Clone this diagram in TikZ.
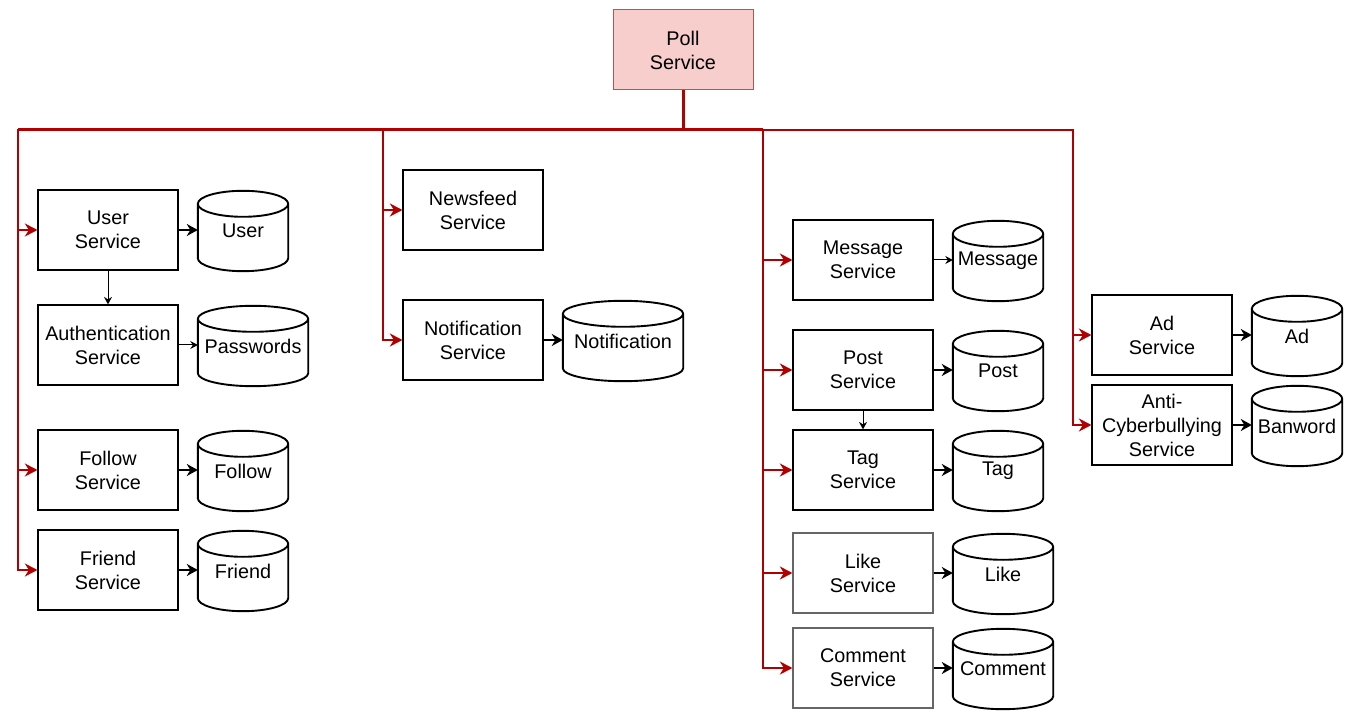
\documentclass[tikz,border=0pt]{standalone}
\usepackage{fontspec}
\setmainfont{Liberation Sans}
\usepackage{tikz}
\usetikzlibrary{arrows.meta, positioning, calc}

\definecolor{feedred}{HTML}{B20000}
\definecolor{pollfill}{HTML}{F8CECC}
\definecolor{pollline}{HTML}{B85450}
\newcommand{\svcfont}{\fontsize{19.8}{24}\selectfont}

\tikzset{
  svc/.style={draw, line width=1.2pt, minimum width=140pt, minimum height=80pt,
    align=center, inner sep=1pt, font=\svcfont},
  db/.style={minimum height=80pt, inner sep=1pt, align=center, font=\svcfont},
  dbline/.style={line width=1.9pt, line join=round},
  feed/.style={draw=feedred, line width=2pt, -{Stealth[length=12.5pt, width=13pt, inset=4pt]}},
  trunk/.style={draw=feedred, line width=3pt},
  store/.style={line width=1.8pt, -{Stealth[length=11pt, width=12pt, inset=3.5pt]}},
  thinstore/.style={line width=1pt, -{Stealth[length=7.5pt, width=8pt, inset=2.5pt]}}
}

% cylinder round a db node
\newcommand{\dbshape}[1]{%
  \draw[dbline] let \p1=($(#1.north east)-(#1.north west)$) in
    ($(#1.north west)+(0,13)$) -- ($(#1.south west)+(0,-13)$)
    arc[start angle=180, end angle=360, x radius=0.5*\x1, y radius=13pt]
    -- ($(#1.north east)+(0,13)$)
    ($(#1.north)+(0,13)$) ellipse[x radius=0.5*\x1, y radius=13pt];
}

\begin{document}
\begin{tikzpicture}[x=1pt, y=-1pt]
                \useasboundingbox (0,0) rectangle (1353,719);

                % Poll service
                \node[svc, draw=pollline, fill=pollfill, line width=1pt] (poll) at (683,50) {Poll\\Service};
                \coordinate (hub) at (683,130);
                \coordinate (spineA) at (18,130);
                \coordinate (spineB) at (383,130);
                \coordinate (spineC) at (763,130);
                \coordinate (spineD) at (1073,130);

                % User side
                \node[svc] (userS) at (108,230) {User\\Service};
                \node[svc] (authS) at (108,345) {Authentication\\Service};
                \node[svc] (followS) at (108,470) {Follow\\Service};
                \node[svc] (friendS) at (108,570) {Friend\\Service};
                \node[db, minimum width=90pt] (userDB) at (243,231) {User};
                \node[db, minimum width=110pt] (passDB) at (253,346) {Passwords};
                \node[db, minimum width=90pt] (followDB) at (243,471) {Follow};
                \node[db, minimum width=90pt] (friendDB) at (243,571) {Friend};

                % Feed side
                \node[svc] (newsS) at (473,210) {Newsfeed\\Service};
                \node[svc] (notifS) at (473,340) {Notification\\Service};
                \node[db, minimum width=120pt] (notifDB) at (623,341) {Notification};

                % Content side
                \node[svc] (msgS) at (863,260) {Message\\Service};
                \node[svc] (postS) at (863,370) {Post\\Service};
                \node[svc] (tagS) at (863,470) {Tag\\Service};
                \node[svc, draw=black!60] (likeS) at (863,573) {Like\\Service};
                \node[svc, draw=black!60] (commS) at (863,668) {Comment\\Service};
                \node[db, minimum width=90pt] (msgDB) at (998,261) {Message};
                \node[db, minimum width=90pt] (postDB) at (998,371) {Post};
                \node[db, minimum width=90pt] (tagDB) at (998,471) {Tag};
                \node[db, minimum width=100pt] (likeDB) at (1003,574) {Like};
                \node[db, minimum width=100pt] (commDB) at (1003,669) {Comment};

                % Ads and moderation
                \node[svc] (adS) at (1162,335) {Ad\\Service};
                \node[svc] (antiS) at (1162,425) {Anti-\\Cyberbullying\\Service};
                \node[db, minimum width=90pt] (adDB) at (1297,336) {Ad};
                \node[db, minimum width=90pt] (banDB) at (1297,426) {Banword};

                % Cylinders
                \dbshape{userDB}
                \dbshape{passDB}
                \dbshape{followDB}
                \dbshape{friendDB}
                \dbshape{notifDB}
                \dbshape{msgDB}
                \dbshape{postDB}
                \dbshape{tagDB}
                \dbshape{likeDB}
                \dbshape{commDB}
                \dbshape{adDB}
                \dbshape{banDB}

                % Poll reaches every service
                \draw[trunk] (poll) -- (hub);
                \draw[trunk] (spineA) -- (spineC);
                \draw[feed] (hub) -- (spineA) |- (userS.west);
                \draw[feed] (hub) -- (spineA) |- (followS.west);
                \draw[feed] (hub) -- (spineA) |- (friendS.west);
                \draw[feed] (hub) -- (spineB) |- (newsS.west);
                \draw[feed] (hub) -- (spineB) |- (notifS.west);
                \draw[feed] (hub) -- (spineC) |- (msgS.west);
                \draw[feed] (hub) -- (spineC) |- (postS.west);
                \draw[feed] (hub) -- (spineC) |- (tagS.west);
                \draw[feed] (hub) -- (spineC) |- (likeS.west);
                \draw[feed] (hub) -- (spineC) |- (commS.west);
                \draw[feed] (hub) -- (spineD) |- (adS.west);
                \draw[feed] (hub) -- (spineD) |- (antiS.west);

                % Services to stores
                \draw[store] (userS) -- (userS -| userDB.west);
                \draw[thinstore] (authS) -- (authS -| passDB.west);
                \draw[store] (followS) -- (followS -| followDB.west);
                \draw[store] (friendS) -- (friendS -| friendDB.west);
                \draw[store] (notifS) -- (notifS -| notifDB.west);
                \draw[thinstore] (msgS) -- (msgS -| msgDB.west);
                \draw[store] (postS) -- (postS -| postDB.west);
                \draw[store] (tagS) -- (tagS -| tagDB.west);
                \draw[store] (likeS) -- (likeS -| likeDB.west);
                \draw[store] (commS) -- (commS -| commDB.west);
                \draw[store] (adS) -- (adS -| adDB.west);
                \draw[store] (antiS) -- (antiS -| banDB.west);

                % Service to service
                \draw[thinstore] (userS) -- (authS);
                \draw[thinstore] (postS) -- (tagS);
            \end{tikzpicture}
\end{document}
